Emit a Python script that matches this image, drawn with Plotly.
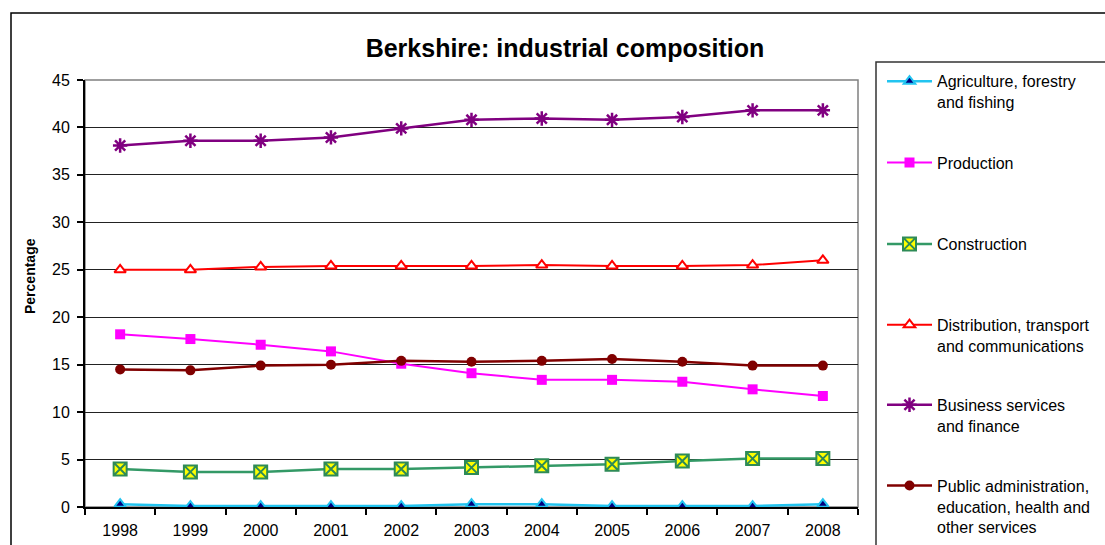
import plotly.graph_objects as go

years = ["1998", "1999", "2000", "2001", "2002", "2003", "2004", "2005", "2006", "2007", "2008"]
agriculture = [0.3, 0.1, 0.1, 0.1, 0.1, 0.3, 0.3, 0.1, 0.1, 0.1, 0.3]
production = [18.2, 17.7, 17.1, 16.4, 15.1, 14.1, 13.4, 13.4, 13.2, 12.4, 11.7]
construction = [4.0, 3.7, 3.7, 4.0, 4.0, 4.15, 4.35, 4.5, 4.85, 5.1, 5.1]
distribution = [25.0, 25.0, 25.3, 25.4, 25.4, 25.4, 25.5, 25.4, 25.4, 25.5, 26.0]
business = [38.1, 38.6, 38.6, 38.95, 39.9, 40.8, 40.95, 40.8, 41.1, 41.8, 41.8]
public_admin = [14.5, 14.4, 14.9, 15.0, 15.4, 15.3, 15.4, 15.6, 15.3, 14.9, 14.9]

names = [
    "\u00a0<br>Agriculture, forestry<br>and fishing",
    "Production",
    "Construction",
    "\u00a0<br>Distribution, transport<br>and communications",
    "\u00a0<br>Business services<br>and finance",
    "\u00a0<br>\u00a0<br>Public administration,<br>education, health and<br>other services",
]

FONT = "Arial, 'Liberation Sans', sans-serif"

# plot area geometry (pixels)
W, H = 1105, 545
L, R, T, B = 85, 858, 80, 507


def px_x(p):
    return (p - L) / (R - L)


def px_y(p):
    return (B - p) / (B - T)


fig = go.Figure()

series = [
    (agriculture, dict(color="#22C4F0", width=2.5),
     dict(symbol="triangle-up", size=10, color="#000080", line=dict(color="#22C4F0", width=2))),
    (production, dict(color="#FF00FF", width=2),
     dict(symbol="square", size=10, color="#FF00FF")),
    (construction, dict(color="#339966", width=2.5),
     dict(symbol="square-x", size=13, color="#FFFF00", line=dict(color="#2E8B57", width=2))),
    (distribution, dict(color="#FF0000", width=2),
     dict(symbol="triangle-up", size=10, color="white", line=dict(color="#FF0000", width=2))),
    (business, dict(color="#800080", width=2.5),
     dict(symbol="asterisk-open", size=12, color="#800080", line=dict(color="#800080", width=2.5))),
    (public_admin, dict(color="#800000", width=2.5),
     dict(symbol="circle", size=10, color="#800000")),
]

legend_centers = [81.5, 162.5, 244, 325, 405, 485.5]
legend_keys = ["legend", "legend2", "legend3", "legend4", "legend5", "legend6"]

for i, (vals, line, marker) in enumerate(series):
    fig.add_trace(go.Scatter(
        x=years, y=vals, name=names[i], mode="lines+markers",
        line=line, marker=marker, legend=legend_keys[i],
    ))

layout_legends = {}
for key, cy in zip(legend_keys, legend_centers):
    layout_legends[key] = dict(
        x=px_x(882), y=px_y(cy), xanchor="left", yanchor="middle",
        font=dict(family=FONT, size=16, color="black"),
        bgcolor="rgba(0,0,0,0)", borderwidth=0, itemwidth=45,
        tracegroupgap=0,
    )

fig.update_layout(
    width=W, height=H, autosize=False,
    margin=dict(l=L, r=W - R, t=T, b=H - B, pad=0, autoexpand=False),
    paper_bgcolor="white", plot_bgcolor="white",
    font=dict(family=FONT, size=16, color="black"),
    title=dict(text="<b>Berkshire: industrial composition</b>",
               font=dict(family=FONT, size=25, color="black"),
               x=565 / W, xanchor="center", xref="container",
               y=1 - 48 / H, yanchor="middle"),
    showlegend=True,
    **layout_legends,
)

fig.update_xaxes(
    type="category", range=[-0.5, 10.5],
    showgrid=False, showline=True, linecolor="black", linewidth=2,
    ticks="outside", tickson="boundaries", ticklen=6, tickcolor="black", tickwidth=1.5,
    tickfont=dict(family=FONT, size=16, color="black"), ticklabelstandoff=8,
    zeroline=False,
)
fig.update_yaxes(
    range=[0, 45], dtick=5, tick0=0,
    showgrid=True, gridcolor="#222222", gridwidth=1,
    showline=True, linecolor="black", linewidth=2,
    ticks="outside", ticklen=6, tickcolor="black", tickwidth=1.5,
    tickfont=dict(family=FONT, size=16, color="black"), ticklabelstandoff=4,
    zeroline=False,
)

# plot-area frame (gray top/right)
fig.add_shape(type="rect", xref="paper", yref="paper", x0=0, y0=0, x1=1, y1=1,
              line=dict(color="#808080", width=1.5), layer="below")
# outer chart border
fig.add_shape(type="rect", xref="paper", yref="paper",
              x0=px_x(11), y0=px_y(13), x1=px_x(1300), y1=px_y(700),
              line=dict(color="black", width=1.5))
# legend box
fig.add_shape(type="rect", xref="paper", yref="paper",
              x0=px_x(876), y0=px_y(62), x1=px_x(1300), y1=px_y(700),
              line=dict(color="#333333", width=1.5))

fig.add_annotation(text="<b>Percentage</b>", xref="paper", yref="paper",
                   x=px_x(30), y=px_y(276), xanchor="center", yanchor="middle",
                   textangle=-90, showarrow=False,
                   font=dict(family=FONT, size=14, color="black"))

fig.write_html("out.html", config={"displayModeBar": False},
               post_script="document.body.style.margin='0px';document.body.style.overflow='hidden';")
